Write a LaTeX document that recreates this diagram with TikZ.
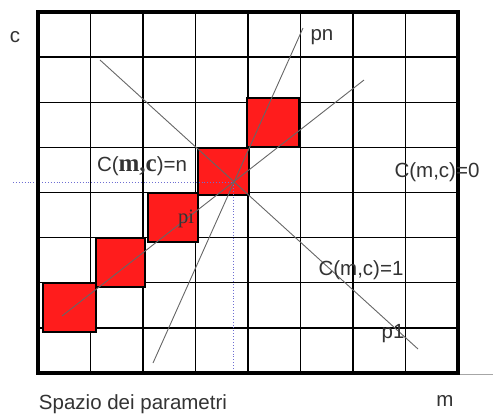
\documentclass[tikz,border=0pt]{standalone}
\usepackage{fontspec}
\setmainfont{Liberation Sans}
\newfontfamily\romanfont{Liberation Serif}
\usepackage{tikz}
\usetikzlibrary{positioning}
\definecolor{cellred}{RGB}{255,28,28}
\definecolor{guideblue}{RGB}{110,110,210}

\begin{document}
\begin{tikzpicture}[
x=1pt, y=-1pt,
cell/.style={fill=cellred,draw=black,line width=1.3pt},
ray/.style={draw=black!60,line width=0.9pt},
guide/.style={draw=guideblue,dotted,line width=0.9pt},
lbl/.style={font=\fontsize{20.5}{24}\selectfont,inner sep=0pt,text=black!80}
]

\useasboundingbox (0,0) rectangle (493,416);

% griglia 8x8
\foreach \i in {1,...,7} {
  \draw[line width=1.3pt] ({38+52.5*\i},12) -- ({38+52.5*\i},373);
  \draw[line width=1.3pt] (38,{12+45.125*\i}) -- (458,{12+45.125*\i});
}

% celle votate
\draw[cell] (43,283) rectangle (96,332);
\draw[cell] (96,238) rectangle (145,287);
\draw[cell] (148,193) rectangle (198,242);
\draw[cell] (198,148) rectangle (249,195);
\draw[cell] (247,98) rectangle (299,147);

% punto (m,c)
\coordinate (mc) at (233,182);
\coordinate (hstart) at (13,182);
\coordinate (vend) at (233,373);
\draw[guide] (hstart) -- (mc) -- (vend);

% rette
\coordinate (p1a) at (100,60);
\coordinate (p1b) at (418,349);
\coordinate (pna) at (303,28);
\coordinate (pnb) at (153,363);
\coordinate (pia) at (364,80);
\coordinate (pib) at (62,316);
\draw[ray] (p1a) -- (p1b);
\draw[ray] (pna) -- (pnb);
\draw[ray] (pia) -- (pib);

% bordo e asse m
\draw[line width=4pt] (38,12) rectangle (458,373);
\coordinate (axend) at (493,374);
\draw[black!35,line width=1pt] (460,374) -- (axend);

% etichette
\node[lbl] (lc) at (15,37) {c};
\node[lbl] (lm) at (445,401) {m};
\node[lbl] (lpn) at (322,37) {pn};
\node[lbl] (lzero) at (437,172) {C(m,c)=0};
\node[lbl] (lone) at (361,270) {C(m,c)=1};
\node[lbl] (lp1) at (393,334) {p1};
\node[lbl] (ln) at (142,166) {C({\romanfont\bfseries\fontsize{25}{26}\selectfont m,c})=n};
\node[lbl] (lpi) at (186,219) {\romanfont pi};
\node[lbl] (title) at (133,404) {Spazio dei parametri};

\end{tikzpicture}
\end{document}
